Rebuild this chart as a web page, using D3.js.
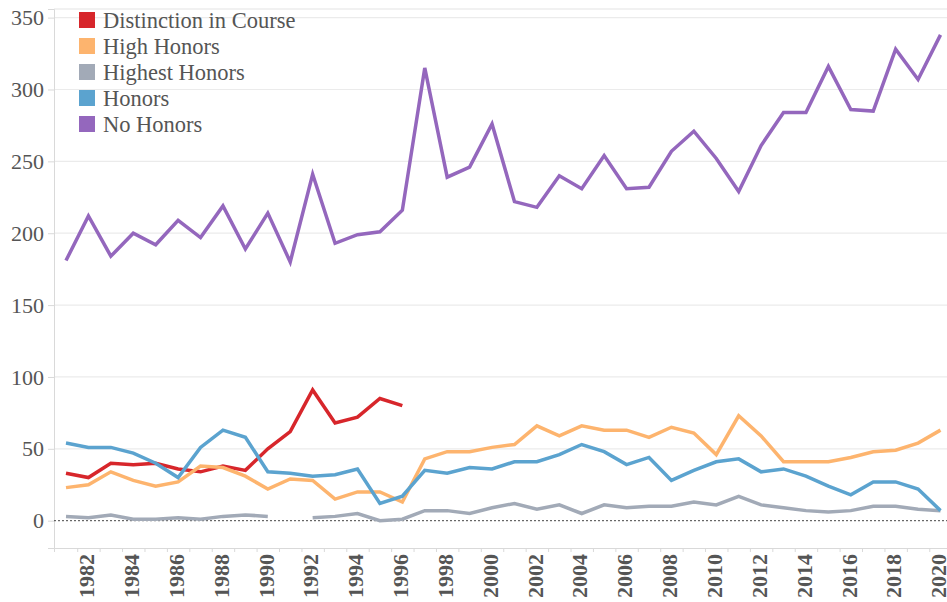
<!DOCTYPE html>
<html>
<head>
<meta charset="utf-8">
<script src="https://cdn.jsdelivr.net/npm/d3@7"></script>
<style>
  body { margin: 0; background: #fff; }
  svg { display: block; font-family: "Liberation Serif", "Times New Roman", serif; }
</style>
</head>
<body>
<div id="chart"></div>
<script>
var width = 947, height = 602

// data
var years = d3.range(1981, 2021)
var series = ['Distinction in Course', 'High Honors', 'Highest Honors', 'Honors', 'No Honors']
var colors = ['#d7262b', '#fdb46e', '#a2aab7', '#5ba3cf', '#9467bd']

var distinction = [33, 30, 40, 39, 40, 36, 34, 38, 35, 50, 62, 91, 68, 72, 85, 80]
var highHonors = [23, 25, 34, 28, 24, 27, 38, 37, 31, 22, 29, 28, 15, 20, 20, 13,
  43, 48, 48, 51, 53, 66, 59, 66, 63, 63, 58, 65, 61, 46, 73, 59, 41, 41, 41, 44, 48, 49, 54, 63]
var highestHonors = [3, 2, 4, 1, 1, 2, 1, 3, 4, 3, null, 2, 3, 5, 0, 1,
  7, 7, 5, 9, 12, 8, 11, 5, 11, 9, 10, 10, 13, 11, 17, 11, 9, 7, 6, 7, 10, 10, 8, 7]
var honors = [54, 51, 51, 47, 40, 30, 51, 63, 58, 34, 33, 31, 32, 36, 12, 17,
  35, 33, 37, 36, 41, 41, 46, 53, 48, 39, 44, 28, 35, 41, 43, 34, 36, 31, 24, 18, 27, 27, 22, 7]
var noHonors = [181, 212, 184, 200, 192, 209, 197, 219, 189, 214, 180, 241, 193, 199, 201, 216,
  315, 239, 246, 276, 222, 218, 240, 231, 254, 231, 232, 257, 271, 252, 229, 261, 284, 284, 316, 286, 285, 328, 307, 338]

var yTicks = [0, 50, 100, 150, 200, 250, 300, 350]
var xLabels = d3.range(1982, 2021, 2)

var allValues = [distinction, highHonors, highestHonors, honors, noHonors]

var svg = d3.select('#chart').append('svg')
  .attr('width', width)
  .attr('height', height)

var x = d3.scaleLinear().domain([1980.465, 2020.29]).range([54, 947])
var y = d3.scaleLinear().domain([-19, 356]).range([548, 9])

// title (cut off at the top in the original)
svg.append('text')
  .attr('x', 350)
  .attr('y', -6)
  .attr('text-anchor', 'end')
  .style('font-size', '21px')
  .style('font-weight', 'bold')
  .attr('fill', '#333')
  .text('Degrees Awarded by Type')

// grid
svg.append('g').selectAll('line')
  .data(yTicks.filter(function(d) {return d !== 0}))
  .enter().append('line')
  .attr('x1', x.range()[0]).attr('x2', x.range()[1])
  .attr('y1', function(d) {return y(d)}).attr('y2', function(d) {return y(d)})
  .attr('stroke', '#ebebeb').attr('stroke-width', 1.2)

// frame
svg.append('line')
  .attr('x1', x.range()[0]).attr('x2', x.range()[1])
  .attr('y1', y.range()[1]).attr('y2', y.range()[1])
  .attr('stroke', '#e3e3e3')

// y axis
var yAxis = svg.append('g')
  .attr('transform', 'translate(' + x.range()[0] + ',0)')
  .call(d3.axisLeft(y).tickValues(yTicks).tickSize(6).tickPadding(4))
yAxis.select('.domain').attr('stroke', '#d9d9d9')
yAxis.selectAll('.tick line').attr('stroke', '#d9d9d9')
yAxis.selectAll('text')
  .style('font-family', '"Liberation Serif", serif')
  .style('font-size', '22px')
  .attr('fill', '#555')

// x axis
var xAxis = svg.append('g')
  .attr('transform', 'translate(0,' + y.range()[0] + ')')
  .call(d3.axisBottom(x).tickValues(d3.range(1981.5, 2020, 1)).tickSize(4).tickFormat(''))
xAxis.select('.domain').attr('stroke', '#d9d9d9')
xAxis.selectAll('.tick line').attr('stroke', '#d9d9d9')

svg.append('g').selectAll('text')
  .data(xLabels)
  .enter().append('text')
  .attr('transform', function(d) {return 'translate(' + (x(d) - 2) + ',' + (y.range()[0] + 6) + ') rotate(-90)'})
  .attr('text-anchor', 'end')
  .attr('dy', '0.35em')
  .style('font-size', '22px')
  .style('font-weight', 'bold')
  .attr('fill', '#555')
  .text(function(d) {return d})

// zero line
svg.append('line')
  .attr('x1', x.range()[0]).attr('x2', x.range()[1])
  .attr('y1', y(0)).attr('y2', y(0))
  .attr('stroke', '#444').attr('stroke-width', 1)
  .attr('stroke-dasharray', '2,2')

// lines
var line = d3.line()
  .defined(function(d) {return d[1] !== null})
  .x(function(d) {return x(d[0])})
  .y(function(d) {return y(d[1])})

allValues.forEach(function(vals, i) {
  var pts = vals.map(function(v, j) {return [years[j], v]})
  svg.append('path')
    .attr('d', line(pts))
    .attr('fill', 'none')
    .attr('stroke', colors[i])
    .attr('stroke-width', 3.5)
    .attr('stroke-linejoin', 'miter')
})

// legend
var legend = svg.append('g').selectAll('g')
  .data(series)
  .enter().append('g')
  .attr('transform', function(d, i) {return 'translate(79,' + (12 + i * 26) + ')'})

legend.append('rect')
  .attr('width', 16).attr('height', 16)
  .attr('fill', function(d, i) {return colors[i]})

legend.append('text')
  .attr('x', 24).attr('y', 8)
  .attr('dy', '0.35em')
  .style('font-size', '22.5px')
  .attr('fill', '#555')
  .text(function(d) {return d})
</script>
</body>
</html>
